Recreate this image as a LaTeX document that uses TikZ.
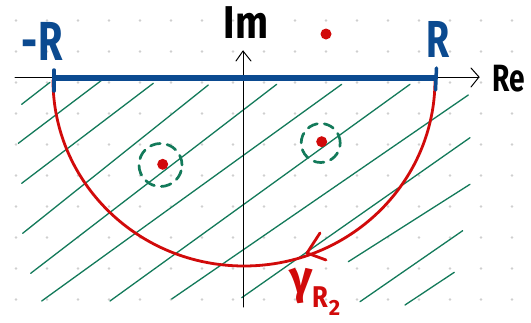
\documentclass[tikz,border=0pt]{standalone}
\usepackage{fontspec}
\setmainfont{Fira Sans}
\definecolor{myblue}{HTML}{0B4A90}
\definecolor{myred}{HTML}{D10A0A}
\definecolor{mygreen}{HTML}{137A5A}
\definecolor{dotgray}{HTML}{CFCFCF}
\begin{document}
\begin{tikzpicture}[x=1pt,y=-1pt,
  hatch/.style={mygreen, line width=1.3pt, line cap=round},
  axisline/.style={black, line width=1pt, line cap=round, line join=round},
  bluebar/.style={myblue, line width=5.5pt},
  bluetick/.style={myblue, line width=3.5pt, line cap=round},
  contour/.style={myred, line width=2.8pt, line cap=round, line join=round},
  pole/.style={circle, fill=myred, inner sep=0pt, minimum size=11pt},
  halo/.style={mygreen, line width=2.7pt, dash pattern=on 10pt off 7pt, line cap=round},
  griddot/.style={fill=dotgray},
  lbl/.style={inner sep=0pt, font=\bfseries}
]
\useasboundingbox[fill=white] (0,0) rectangle (531,322);
% dot grid
\foreach \i in {0,...,16}{
  \foreach \j in {0,...,9}{
    \fill[griddot] (16+31*\i, 20.5+31*\j) circle (1.4pt);
  }
}
% hatching
\draw[hatch] (21.7,104.3) -- (50,82.3);
\draw[hatch] (18.3,143.3) -- (103.3,79);
\draw[hatch] (21.7,183.3) -- (153.3,83.3);
\draw[hatch] (22.7,233.3) -- (208.3,85);
\draw[hatch] (30.7,273.3) -- (276.7,84.3);
\draw[hatch] (41.7,301) -- (341.7,84.3);
\draw[hatch] (110,301) -- (410,84.3);
\draw[hatch] (171.7,299) -- (468.3,95);
\draw[hatch] (241.7,297.7) -- (470,137.7);
\draw[hatch] (348.3,261.7) -- (470,184.3);
\draw[hatch] (360,301.7) -- (462.7,230.7);
\draw[hatch] (405,305) -- (454.3,272.3);
% axes
\draw[axisline] (15,77) -- (479,77);
\draw[axisline] (471,68) -- (479,77) -- (471,87);
\draw[axisline] (243,307) -- (243,51);
\draw[axisline] (236,61) -- (243,51) -- (251,61);
% dashed circles
\draw[halo] (160.5,165) circle (21.5pt);
\draw[halo] (320.7,143) circle (19.5pt);
% contour
\draw[contour] (435,80) arc[start angle=0, end angle=180, x radius=191, y radius=186];
\draw[contour] (320,233) -- (307,253) -- (326,260);
% blue segment
\draw[bluebar] (54,78) -- (436,78);
\draw[bluetick] (54,70) -- (54,91);
\draw[bluetick] (436.5,68) -- (435.5,90);
% poles
\node[pole] (p1) at (326,34) {};
\node[pole] (p2) at (321.7,141.7) {};
\node[pole] (p3) at (162.7,164.3) {};
% labels
\node[lbl, myblue] (mR) at (42,41) {\fontsize{55}{55}\selectfont\scalebox{0.72}[1]{-\kern2pt R}};
\node[lbl, myblue] (pR) at (438,39) {\fontsize{52}{52}\selectfont\scalebox{0.72}[1]{R}};
\node[lbl] (im) at (246,23) {\fontsize{46}{46}\selectfont\scalebox{0.85}[1]{Im}};
\node[lbl] (re) at (509,79) {\fontsize{38}{38}\selectfont\scalebox{0.74}[1]{Re}};
\node[lbl, myred] (gam) at (301,286) {\fontsize{46}{46}\selectfont γ};
\node[lbl, myred] (gR) at (320,297) {\fontsize{30}{30}\selectfont\scalebox{0.85}[1]{R}};
\node[lbl, myred] (g2) at (334.5,307.5) {\fontsize{22}{22}\selectfont 2};
\end{tikzpicture}
\end{document}
